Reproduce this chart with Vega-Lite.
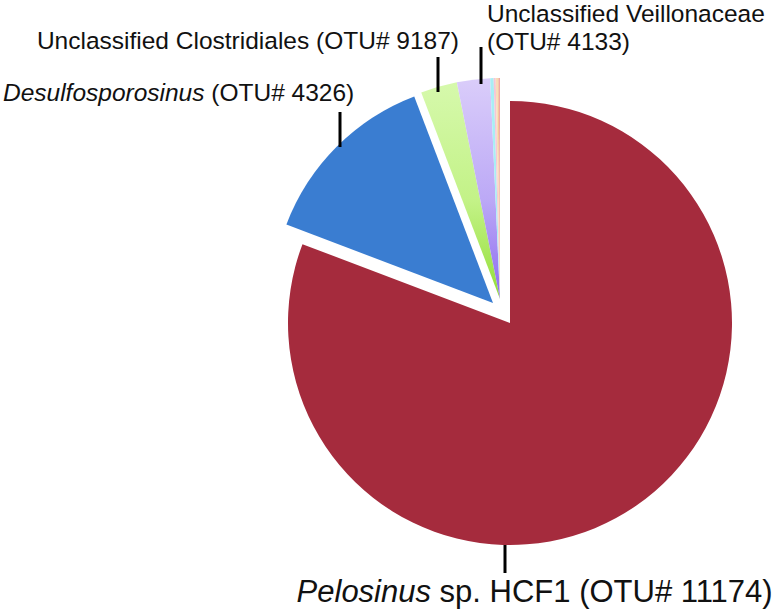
{
  "$schema": "https://vega.github.io/schema/vega-lite/v6.json",
  "width": 560,
  "height": 598,
  "autosize": "none",
  "padding": {"left": 220, "top": 0, "right": 0, "bottom": 13},
  "background": "white",
  "config": {"view": {"stroke": null}},
  "data": {
    "values": [
      {"taxon": "Pelosinus sp. HCF1 (OTU# 11174)", "genus": "Pelosinus", "label": "sp. HCF1 (OTU# 11174)", "value": 80.77},
      {"taxon": "Desulfosporosinus (OTU# 4326)", "genus": "Desulfosporosinus", "label": "(OTU# 4326)", "value": 13.42},
      {"taxon": "Unclassified Clostridiales (OTU# 9187)", "genus": "", "label": "Unclassified Clostridiales (OTU# 9187)", "value": 2.67},
      {"taxon": "Unclassified Veillonaceae (OTU# 4133)", "genus": "", "label": "Unclassified Veillonaceae\n(OTU# 4133)", "value": 2.42},
      {"taxon": "Other OTU 1", "genus": "", "label": "", "value": 0.25},
      {"taxon": "Other OTU 2", "genus": "", "label": "", "value": 0.15},
      {"taxon": "Other OTU 3", "genus": "", "label": "", "value": 0.12},
      {"taxon": "Other OTU 4", "genus": "", "label": "", "value": 0.10},
      {"taxon": "Other OTU 5", "genus": "", "label": "", "value": 0.09}
    ]
  },
  "transform": [
    {"stack": "value", "groupby": [], "sort": [{"field": "value", "order": "descending"}], "offset": "normalize", "as": ["v0", "v1"]}
  ],
  "layer": [
    {
      "transform": [{"filter": {"field": "taxon", "equal": "Pelosinus sp. HCF1 (OTU# 11174)"}}],
      "mark": {"type": "arc", "outerRadius": 222, "fill": "#A52B3D", "xOffset": 10, "yOffset": 24},
      "encoding": {
        "theta": {"field": "v0", "type": "quantitative", "scale": {"domain": [0, 1]}},
        "theta2": {"field": "v1"}
      }
    },
    {
      "transform": [{"filter": {"field": "taxon", "equal": "Desulfosporosinus (OTU# 4326)"}}],
      "mark": {"type": "arc", "outerRadius": 221, "fill": "#3A7DD1", "xOffset": -7, "yOffset": 4},
      "encoding": {
        "theta": {"field": "v0", "type": "quantitative", "scale": {"domain": [0, 1]}},
        "theta2": {"field": "v1"}
      }
    },
    {
      "transform": [{"filter": {"field": "taxon", "equal": "Unclassified Clostridiales (OTU# 9187)"}}],
      "mark": {"type": "arc", "outerRadius": 221,
        "fill": {"gradient": "linear", "x1": 0, "y1": 0, "x2": 0, "y2": 1,
          "stops": [{"offset": 0, "color": "#D6F9AC"}, {"offset": 0.55, "color": "#C3F287"}, {"offset": 1, "color": "#92DE36"}]}},
      "encoding": {
        "theta": {"field": "v0", "type": "quantitative", "scale": {"domain": [0, 1]}},
        "theta2": {"field": "v1"}
      }
    },
    {
      "transform": [{"filter": {"field": "taxon", "equal": "Unclassified Veillonaceae (OTU# 4133)"}}],
      "mark": {"type": "arc", "outerRadius": 221,
        "fill": {"gradient": "linear", "x1": 0, "y1": 0, "x2": 0, "y2": 1,
          "stops": [{"offset": 0, "color": "#DACDFA"}, {"offset": 0.55, "color": "#BCA9F6"}, {"offset": 1, "color": "#8C6BEF"}]}},
      "encoding": {
        "theta": {"field": "v0", "type": "quantitative", "scale": {"domain": [0, 1]}},
        "theta2": {"field": "v1"}
      }
    },
    {
      "transform": [{"filter": {"field": "value", "lt": 1}}],
      "mark": {"type": "arc", "outerRadius": 221},
      "encoding": {
        "theta": {"field": "v0", "type": "quantitative", "scale": {"domain": [0, 1]}},
        "theta2": {"field": "v1"},
        "color": {"field": "taxon", "type": "nominal", "legend": null,
          "scale": {"domain": ["Other OTU 1", "Other OTU 2", "Other OTU 3", "Other OTU 4", "Other OTU 5"],
                    "range": ["#A8EEF5", "#F5C6D6", "#F7DDB8", "#F6C89A", "#F0A8A8"]}}
      }
    },
    {
      "transform": [{"filter": {"field": "taxon", "equal": "Desulfosporosinus (OTU# 4326)"}}],
      "mark": {"type": "point", "shape": "M0,-1L0,1", "filled": false, "stroke": "black", "strokeWidth": 3, "opacity": 1, "size": 1225, "xOffset": -160, "yOffset": -169.5},
      "encoding": {}
    },
    {
      "transform": [{"filter": {"field": "taxon", "equal": "Unclassified Clostridiales (OTU# 9187)"}}],
      "mark": {"type": "point", "shape": "M0,-1L0,1", "filled": false, "stroke": "black", "strokeWidth": 3, "opacity": 1, "size": 1225, "xOffset": -62, "yOffset": -224.5},
      "encoding": {}
    },
    {
      "transform": [{"filter": {"field": "taxon", "equal": "Unclassified Veillonaceae (OTU# 4133)"}}],
      "mark": {"type": "point", "shape": "M0,-1L0,1", "filled": false, "stroke": "black", "strokeWidth": 3, "opacity": 1, "size": 1369, "xOffset": -19, "yOffset": -233.5},
      "encoding": {}
    },
    {
      "transform": [{"filter": {"field": "taxon", "equal": "Pelosinus sp. HCF1 (OTU# 11174)"}}],
      "mark": {"type": "point", "shape": "M0,-1L0,1", "filled": false, "stroke": "black", "strokeWidth": 3, "opacity": 1, "size": 784, "xOffset": 5, "yOffset": 260},
      "encoding": {}
    },
    {
      "transform": [{"filter": {"field": "taxon", "equal": "Desulfosporosinus (OTU# 4326)"}}],
      "mark": {"type": "text", "align": "right", "baseline": "alphabetic", "dx": -295.5, "dy": -198, "font": "Liberation Sans", "fontSize": 24.5, "fontStyle": "italic", "color": "#111111"},
      "encoding": {"text": {"field": "genus"}}
    },
    {
      "transform": [{"filter": {"field": "taxon", "equal": "Desulfosporosinus (OTU# 4326)"}}],
      "mark": {"type": "text", "align": "left", "baseline": "alphabetic", "dx": -288.7, "dy": -198, "font": "Liberation Sans", "fontSize": 24.5, "color": "#111111"},
      "encoding": {"text": {"field": "label"}}
    },
    {
      "transform": [{"filter": {"field": "taxon", "equal": "Unclassified Clostridiales (OTU# 9187)"}}],
      "mark": {"type": "text", "align": "right", "baseline": "alphabetic", "dx": -41, "dy": -250, "font": "Liberation Sans", "fontSize": 24.5, "color": "#111111"},
      "encoding": {"text": {"field": "label"}}
    },
    {
      "transform": [{"filter": {"field": "taxon", "equal": "Unclassified Veillonaceae (OTU# 4133)"}}],
      "mark": {"type": "text", "align": "left", "baseline": "alphabetic", "dx": -13, "dy": -277.5, "lineBreak": "\n", "lineHeight": 28, "font": "Liberation Sans", "fontSize": 24.5, "color": "#111111"},
      "encoding": {"text": {"field": "label"}}
    },
    {
      "transform": [{"filter": {"field": "taxon", "equal": "Pelosinus sp. HCF1 (OTU# 11174)"}}],
      "mark": {"type": "text", "align": "right", "baseline": "alphabetic", "dx": -69, "dy": 302.5, "font": "Liberation Sans", "fontSize": 31, "fontStyle": "italic", "color": "#111111"},
      "encoding": {"text": {"field": "genus"}}
    },
    {
      "transform": [{"filter": {"field": "taxon", "equal": "Pelosinus sp. HCF1 (OTU# 11174)"}}],
      "mark": {"type": "text", "align": "left", "baseline": "alphabetic", "dx": -60.4, "dy": 302.5, "font": "Liberation Sans", "fontSize": 31, "color": "#111111"},
      "encoding": {"text": {"field": "label"}}
    }
  ]
}
